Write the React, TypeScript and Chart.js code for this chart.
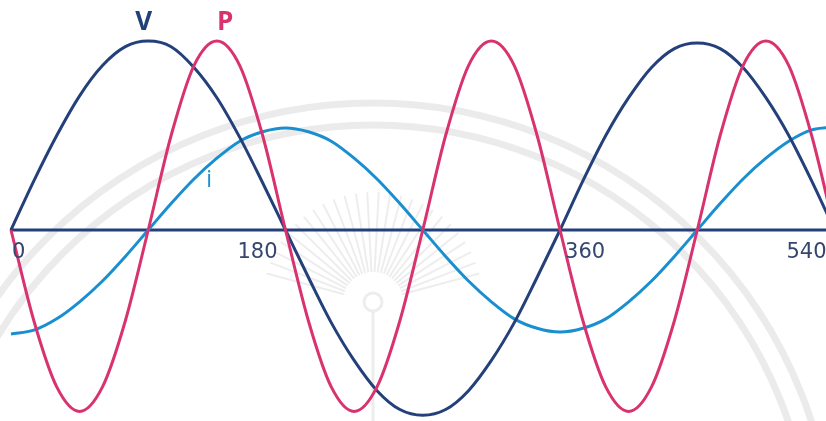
import React, { useEffect, useRef } from "react";
import { Chart, registerables } from "chart.js";

Chart.register(...registerables);

// Electrical angle in degrees
const degrees = [
  0, 15, 30, 45, 60, 75, 90, 105, 120, 135, 150, 165, 180, 195, 210, 225, 240, 255,
  270, 285, 300, 315, 330, 345, 360, 375, 390, 405, 420, 435, 450, 465, 480, 495,
  510, 525, 540,
];

// Instantaneous voltage v
const voltage = [
  0, 0.26, 0.5, 0.71, 0.87, 0.97, 1.0, 0.97, 0.86, 0.7, 0.49, 0.25, 0, -0.25, -0.49,
  -0.69, -0.85, -0.95, -0.98, -0.95, -0.85, -0.69, -0.49, -0.25, 0, 0.26, 0.5, 0.7,
  0.86, 0.96, 0.99, 0.96, 0.86, 0.7, 0.5, 0.26, 0,
];

// Instantaneous current i (lagging by 90°)
const current = [
  -0.55, -0.53, -0.47, -0.38, -0.27, -0.14, 0, 0.14, 0.27, 0.38, 0.47, 0.52, 0.54,
  0.52, 0.47, 0.38, 0.27, 0.14, 0, -0.14, -0.27, -0.38, -0.47, -0.52, -0.54, -0.52,
  -0.47, -0.38, -0.27, -0.14, 0, 0.14, 0.27, 0.38, 0.47, 0.53, 0.545,
];

// Instantaneous power p = v·i
const power = [
  0, -0.48, -0.83, -0.96, -0.83, -0.48, 0, 0.5, 0.87, 1.0, 0.87, 0.5, 0, -0.48, -0.83,
  -0.96, -0.83, -0.48, 0, 0.5, 0.87, 1.0, 0.87, 0.5, 0, -0.48, -0.83, -0.96, -0.83,
  -0.48, 0, 0.5, 0.87, 1.0, 0.87, 0.5, 0,
];

const tickDegrees = [0, 180, 360, 540];
const tickLabels = ["0", "180", "360", "540"];
const seriesNames = ["V", "P", "i"];

const NAVY = "#24407a";
const PINK = "#d9336f";
const BLUE = "#1a8fd0";
const TICK_TEXT = "#34466f";

const toPoints = (values: number[]) => degrees.map((d, k) => ({ x: d, y: values[k] }));

// Faint seal in the background, the zero axis, its tick labels and series names
const phasePlot = {
  id: "phasePlot",
  beforeDatasetsDraw(chart: any) {
    const { ctx } = chart;
    const xs = chart.scales.x;
    const ys = chart.scales.y;

    ctx.save();
    // seal rings
    ctx.strokeStyle = "rgba(0,0,0,0.08)";
    ctx.lineWidth = 7;
    for (const r of [461, 439]) {
      ctx.beginPath();
      ctx.arc(373, 564, r, 0, Math.PI * 2);
      ctx.stroke();
    }
    // sun rays
    ctx.strokeStyle = "rgba(0,0,0,0.07)";
    ctx.lineWidth = 2;
    const cx = 373;
    const cy = 302;
    for (let a = 195; a <= 345; a += 6) {
      const t = (a * Math.PI) / 180;
      ctx.beginPath();
      ctx.moveTo(cx + Math.cos(t) * 30, cy + Math.sin(t) * 30);
      ctx.lineTo(cx + Math.cos(t) * 110, cy + Math.sin(t) * 110);
      ctx.stroke();
    }
    ctx.lineWidth = 3;
    ctx.beginPath();
    ctx.arc(cx, cy, 9, 0, Math.PI * 2);
    ctx.stroke();
    ctx.beginPath();
    ctx.moveTo(cx, cy + 10);
    ctx.lineTo(cx, 421);
    ctx.stroke();

    // zero axis
    const y0 = ys.getPixelForValue(0);
    ctx.strokeStyle = NAVY;
    ctx.lineWidth = 3;
    ctx.beginPath();
    ctx.moveTo(xs.getPixelForValue(0) - 1, y0);
    ctx.lineTo(chart.chartArea.right, y0);
    ctx.stroke();
    ctx.restore();
  },
  afterDatasetsDraw(chart: any) {
    const { ctx } = chart;
    const xs = chart.scales.x;
    const ys = chart.scales.y;
    const y0 = ys.getPixelForValue(0);

    ctx.save();
    ctx.fillStyle = TICK_TEXT;
    ctx.font = "21px 'DejaVu Sans'";
    ctx.textBaseline = "alphabetic";
    tickDegrees.forEach((d, k) => {
      const px = xs.getPixelForValue(d);
      const leftSide = k % 2 === 1;
      ctx.textAlign = leftSide ? "right" : "left";
      ctx.fillText(tickLabels[k], leftSide ? px - 8 : px + (k === 0 ? 1 : 5), y0 + 28);
    });

    ctx.textAlign = "center";
    ctx.textBaseline = "middle";
    ctx.font = "bold 26px 'Open Sans'";
    ctx.fillStyle = NAVY;
    ctx.fillText(seriesNames[0], xs.getPixelForValue(87), 23);
    ctx.fillStyle = PINK;
    ctx.fillText(seriesNames[1], xs.getPixelForValue(140.5), 23);
    ctx.font = "23px 'Open Sans'";
    ctx.fillStyle = BLUE;
    ctx.fillText(seriesNames[2], xs.getPixelForValue(130), ys.getPixelForValue(0.26));
    ctx.restore();
  },
};

export default function App() {
  const canvasRef = useRef<HTMLCanvasElement | null>(null);

  useEffect(() => {
    document.body.style.margin = "0";
    const canvas = canvasRef.current;
    if (!canvas) return;

    const line = (label: string, values: number[], color: string, order: number) => ({
      label,
      data: toPoints(values),
      borderColor: color,
      borderWidth: 3,
      pointRadius: 0,
      fill: false,
      cubicInterpolationMode: "monotone" as const,
      order,
    });

    const chart = new Chart(canvas, {
      type: "line",
      data: {
        datasets: [
          line("P", power, PINK, 0),
          line("V", voltage, NAVY, 1),
          line("i", current, BLUE, 2),
        ],
      },
      options: {
        animation: false,
        responsive: false,
        devicePixelRatio: 1,
        layout: { padding: 0 },
        plugins: {
          legend: { display: false },
          tooltip: { enabled: false },
        },
        scales: {
          x: { type: "linear", display: false, min: -7.2, max: 534.4 },
          y: { type: "linear", display: false, min: -1.0106, max: 1.217 },
        },
      },
      plugins: [phasePlot],
    });

    return () => chart.destroy();
  }, []);

  return (
    <div style={{ position: "fixed", left: 0, top: 0, width: 826, height: 421, background: "#fff" }}>
      <canvas ref={canvasRef} width={826} height={421} />
    </div>
  );
}
